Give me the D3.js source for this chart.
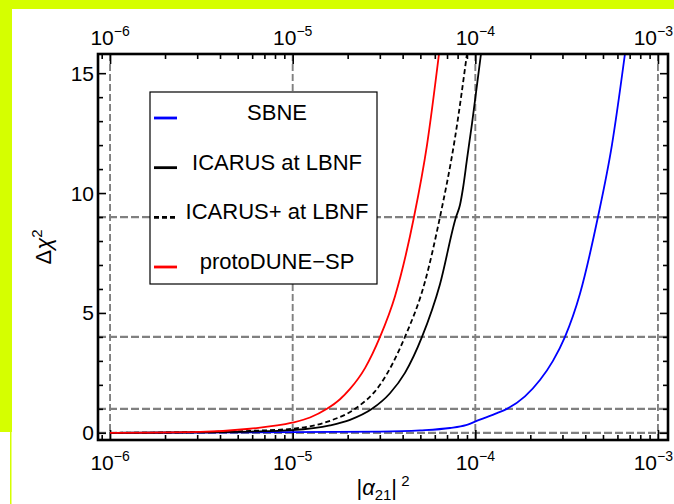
<!DOCTYPE html>
<html><head><meta charset="utf-8">
<script src="https://cdn.jsdelivr.net/npm/d3@7"></script>
<style>
body{margin:0;background:#fff}
svg{display:block}
text{font-family:"Liberation Sans",Arial,Helvetica,sans-serif;fill:#000}
</style>
</head><body>
<svg id="c" width="674" height="504"></svg>
<script>
// ---------- data ----------
const xMajor = [1e-6, 1e-5, 1e-4, 1e-3];
const xExponents = ["\u22126", "\u22125", "\u22124", "\u22123"];
const yMajor = [0, 5, 10, 15];
const yMinor = [1, 2, 3, 4, 6, 7, 8, 9, 11, 12, 13, 14];
const yGrid = [0, 1, 4, 9];
const seriesNames = ["SBNE", "ICARUS at LBNF", "ICARUS+ at LBNF", "protoDUNE\u2212SP"];

const sbneX = [1e-6, 1e-5, 3.007e-5, 4.98e-5, 7.265e-5, 8.89e-5, 1.060e-4, 1.314e-4, 1.490e-4, 1.870e-4, 2.259e-4, 2.661e-4, 3.097e-4, 3.741e-4, 4.692e-4, 5.597e-4, 6.596e-4];
const sbneY = [0.0, 0.03, 0.05, 0.1, 0.2, 0.32, 0.55, 0.82, 1.0, 1.52, 2.2, 3.0, 4.0, 5.8, 9.0, 12.0, 15.8];

const icarusX = [1e-6, 3.11e-6, 5.84e-6, 9.91e-6, 1.601e-5, 2.06e-5, 2.719e-5, 3.41e-5, 4.119e-5, 5.105e-5, 6.405e-5, 7.84e-5, 8.24e-5, 8.56e-5, 9.0e-5, 9.59e-5, 1.021e-4, 1.074e-4];
const icarusY = [0.0, 0.02, 0.05, 0.11, 0.31, 0.54, 1.0, 1.65, 2.5, 4.0, 6.2, 9.0, 9.5, 10.2, 11.4, 12.9, 14.5, 15.8];

const icarusPlusX = [1e-6, 3.11e-6, 5.84e-6, 9.91e-6, 1.601e-5, 2.194e-5, 3.007e-5, 4.119e-5, 5.30e-5, 6.405e-5, 7.74e-5, 9.0e-5];
const icarusPlusY = [0.0, 0.03, 0.08, 0.17, 0.5, 1.0, 2.0, 4.0, 6.3, 9.0, 12.3, 15.8];

const protoX = [1e-6, 3.11e-6, 5.84e-6, 9.91e-6, 1.244e-5, 1.541e-5, 1.816e-5, 2.06e-5, 2.489e-5, 3.007e-5, 3.633e-5, 4.615e-5, 5.437e-5, 6.325e-5];
const protoY = [0.0, 0.04, 0.17, 0.42, 0.64, 1.0, 1.4, 1.83, 2.7, 4.0, 5.7, 9.0, 12.0, 15.8];

// ---------- layout ----------
const svg = d3.select("#c");
const L = 98, R = 668, T = 54, B = 440;
const x = d3.scaleLog().domain([Math.pow(10, -6.066), Math.pow(10, -2.945)]).range([L, R]);
const y = d3.scaleLinear().domain([-0.3, 15.8]).range([B, T]);

// background decorations
svg.append("rect").attr("x", 0).attr("y", 0).attr("width", 674).attr("height", 504).attr("fill", "#fff");
svg.append("rect").attr("x", 0).attr("y", 0).attr("width", 674).attr("height", 9).attr("fill", "#d5ff00");
svg.append("rect").attr("x", 0).attr("y", 0).attr("width", 12).attr("height", 432).attr("fill", "#d5ff00");
svg.append("rect").attr("x", 10).attr("y", 432).attr("width", 1.5).attr("height", 72).attr("fill", "#d5ff00");

// clip
svg.append("clipPath").attr("id", "plot").append("rect")
  .attr("x", L).attr("y", T).attr("width", R - L).attr("height", B - T);

// grid
const grid = svg.append("g").attr("clip-path", "url(#plot)");
grid.selectAll("line.v").data(xMajor).join("line").attr("class", "v")
  .attr("x1", d => x(d)).attr("x2", d => x(d)).attr("y1", T).attr("y2", B)
  .attr("stroke", "#808080").attr("stroke-width", 1.9).attr("stroke-dasharray", "7,3");
grid.selectAll("line.h").data(yGrid).join("line").attr("class", "h")
  .attr("x1", L).attr("x2", R).attr("y1", d => y(d)).attr("y2", d => y(d))
  .attr("stroke", "#808080").attr("stroke-width", 2.3).attr("stroke-dasharray", "8,3");

// minor x ticks
const xMinor = [];
xMajor.concat([1e-7]).forEach(d => { for (let k = 2; k <= 9; k++) { const v = k * d; if (v > x.domain()[0] && v < x.domain()[1]) xMinor.push(v); } });

function styleAxis(g) {
  g.select(".domain").remove();
  g.selectAll(".tick line").attr("stroke", "#000").attr("stroke-width", 1.6);
  g.selectAll(".tick text").remove();
}
svg.append("g").attr("transform", `translate(0,${B})`)
  .call(d3.axisBottom(x).tickValues(xMajor).tickSizeInner(-10).tickSizeOuter(0).tickFormat("")).call(styleAxis);
svg.append("g").attr("transform", `translate(0,${B})`)
  .call(d3.axisBottom(x).tickValues(xMinor).tickSizeInner(-5).tickSizeOuter(0).tickFormat("")).call(styleAxis);
svg.append("g").attr("transform", `translate(0,${T})`)
  .call(d3.axisTop(x).tickValues(xMajor).tickSizeInner(-10).tickSizeOuter(0).tickFormat("")).call(styleAxis);
svg.append("g").attr("transform", `translate(0,${T})`)
  .call(d3.axisTop(x).tickValues(xMinor).tickSizeInner(-5).tickSizeOuter(0).tickFormat("")).call(styleAxis);
svg.append("g").attr("transform", `translate(${L},0)`)
  .call(d3.axisLeft(y).tickValues(yMajor).tickSizeInner(-8).tickSizeOuter(0).tickFormat("")).call(styleAxis);
svg.append("g").attr("transform", `translate(${L},0)`)
  .call(d3.axisLeft(y).tickValues(yMinor).tickSizeInner(-5).tickSizeOuter(0).tickFormat("")).call(styleAxis);
svg.append("g").attr("transform", `translate(${R},0)`)
  .call(d3.axisRight(y).tickValues(yMajor).tickSizeInner(-8).tickSizeOuter(0).tickFormat("")).call(styleAxis);
svg.append("g").attr("transform", `translate(${R},0)`)
  .call(d3.axisRight(y).tickValues(yMinor).tickSizeInner(-5).tickSizeOuter(0).tickFormat("")).call(styleAxis);

// x tick labels (bottom & top)
function xLabels(baseY) {
  const last = xMajor.length - 1;
  const t = svg.append("g").selectAll("text").data(xMajor).join("text")
    .attr("x", (d, i) => i === last ? 673 : x(d)).attr("y", baseY)
    .attr("text-anchor", (d, i) => i === last ? "end" : "middle").attr("font-size", 21);
  t.append("tspan").text("10");
  t.append("tspan").attr("dy", -9).attr("font-size", 14).text((d, i) => xExponents[i]);
}
xLabels(470);
xLabels(45);

// y tick labels
svg.append("g").selectAll("text").data(yMajor).join("text")
  .attr("x", L - 4).attr("y", d => y(d) + 7.5).attr("text-anchor", "end").attr("font-size", 21)
  .text(d => d);

// curves
const line = d3.line().x(d => x(d[0])).y(d => y(d[1])).curve(d3.curveMonotoneX);
const series = [
  {xs: sbneX, ys: sbneY, color: "#0000ff", dash: null},
  {xs: icarusX, ys: icarusY, color: "#000", dash: null},
  {xs: icarusPlusX, ys: icarusPlusY, color: "#000", dash: "5,3"},
  {xs: protoX, ys: protoY, color: "#ff0000", dash: null}
];
const cg = svg.append("g").attr("clip-path", "url(#plot)");
series.forEach(s => {
  cg.append("path").datum(s.xs.map((v, i) => [v, s.ys[i]]))
    .attr("d", line).attr("fill", "none").attr("stroke", s.color)
    .attr("stroke-width", 1.8).attr("stroke-dasharray", s.dash);
});

// frame
svg.append("rect").attr("x", L).attr("y", T).attr("width", R - L).attr("height", B - T)
  .attr("fill", "none").attr("stroke", "#000").attr("stroke-width", 2.6);

// legend
const lg = svg.append("g");
lg.append("rect").attr("x", 150).attr("y", 92).attr("width", 227).attr("height", 192)
  .attr("fill", "#fff").attr("stroke", "#000").attr("stroke-width", 1.2);
const legY = d3.scalePoint().domain(seriesNames).range([120, 269]);
seriesNames.forEach((n, i) => {
  const s = series[i];
  lg.append("line").attr("x1", 154).attr("x2", 177).attr("y1", legY(n) - 2).attr("y2", legY(n) - 2)
    .attr("stroke", s.color).attr("stroke-width", 2.8).attr("stroke-dasharray", s.dash ? "5,3" : null);
  lg.append("text").attr("x", 277).attr("y", legY(n)).attr("text-anchor", "middle")
    .attr("font-size", 22).text(n);
});

// axis titles
const xt = svg.append("text").attr("x", 383).attr("y", 495).attr("text-anchor", "middle").attr("font-size", 22);
xt.append("tspan").text("|");
xt.append("tspan").attr("font-style", "italic").text("\u03b1");
xt.append("tspan").attr("font-size", 15).attr("dy", 5).text("21");
xt.append("tspan").attr("dy", -5).text("|");
xt.append("tspan").attr("font-size", 15).attr("dy", -9).text(" 2");

const yt = svg.append("text").attr("transform", "translate(51,247) rotate(-90)")
  .attr("text-anchor", "middle").attr("font-size", 22);
yt.append("tspan").text("\u0394");
yt.append("tspan").attr("font-style", "italic").text("\u03c7");
yt.append("tspan").attr("font-size", 15).attr("dy", -9).text("2");
</script>
</body></html>
